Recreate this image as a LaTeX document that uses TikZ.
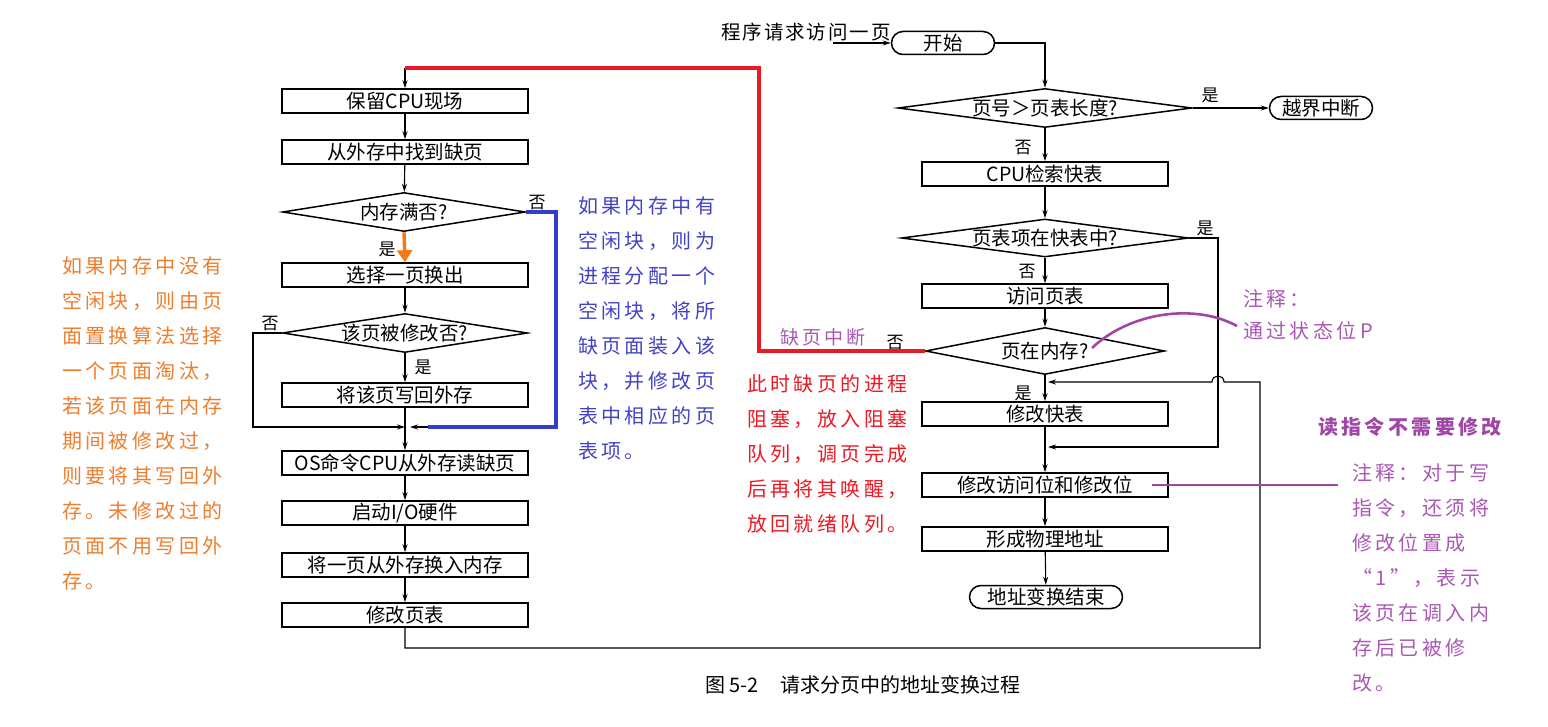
\documentclass[tikz,border=0pt]{standalone}
\usepackage{fontspec}
\setmainfont{Noto Sans CJK SC}
\newfontfamily\annot[LetterSpace=17]{Noto Sans CJK SC}
\newfontfamily\lblf[LetterSpace=10]{Noto Sans CJK SC}
\usetikzlibrary{shapes.geometric,arrows.meta}
\definecolor{orT}{RGB}{238,125,45}
\definecolor{orA}{RGB}{245,120,20}
\definecolor{blT}{RGB}{66,66,196}
\definecolor{blL}{RGB}{50,60,205}
\definecolor{rdT}{RGB}{235,25,35}
\definecolor{puL}{RGB}{160,70,165}
\definecolor{puT}{RGB}{168,88,178}
\tikzset{
  boxf/.style={font=\fontsize{19.5}{22}\selectfont},
  box/.style={boxf, draw, line width=1.5pt, minimum width=246, minimum height=24, inner sep=0pt},
  term/.style={boxf, draw, line width=1.5pt, rounded corners=11.5, minimum height=23, inner sep=0pt},
  dia/.style={boxf, diamond, draw, line width=1.5pt, inner sep=0pt},
  arr/.style={-{Stealth[length=8pt,width=5pt]}, line width=1.1pt},
  ln/.style={line width=1.1pt},
  yn/.style={font=\fontsize{17}{17}\selectfont, inner sep=0pt},
  orarr/.style={-{Triangle[length=12pt,width=15pt]}, line width=3.4pt, draw=orA},
  blline/.style={line width=3.5pt, draw=blL},
  rdline/.style={line width=3.2pt, draw=rdT},
  pline/.style={line width=2.6pt, draw=puL},
  note/.style={anchor=north west, align=left, inner sep=0pt, font=\annot\fontsize{20}{35}\selectfont},
}
\begin{document}
\begin{tikzpicture}[x=1pt,y=-1pt]
\useasboundingbox (0,0) rectangle (1548,727);

% ---------- left column ----------
\node[box] (n1) at (405,101) {保留CPU现场};
\node[box] (n2) at (405,152) {从外存中找到缺页};
\node[dia, minimum width=243, minimum height=39, aspect=6.2] (d1) at (404,212) {内存满否?};
\node[box] (n3) at (405,275) {选择一页换出};
\node[dia, minimum width=245, minimum height=39, aspect=6.3] (d2) at (405,333) {该页被修改否?};
\node[box] (n4) at (405,395) {将该页写回外存};
\coordinate (J1) at (405,427);
\node[box] (n5) at (405,463) {OS命令CPU从外存读缺页};
\node[box] (n6) at (405,513) {启动I/O硬件};
\node[box] (n7) at (405,565) {将一页从外存换入内存};
\node[box] (n8) at (405,615) {修改页表};

% ---------- right column ----------
\node[yn, font=\lblf\fontsize{19.5}{22}\selectfont] (req) at (806,32) {程序请求访问一页};
\coordinate (inS) at (833,43);
\node[term, minimum width=103] (s) at (943,43) {开始};
\node[dia, minimum width=294, minimum height=39, aspect=7.5] (d3) at (1045,108) {页号＞页表长度?};
\node[term, minimum width=103] (e1) at (1321,108) {越界中断};
\node[box] (m1) at (1045,174) {CPU检索快表};
\node[dia, minimum width=287, minimum height=38, aspect=7.55] (d4) at (1045,238) {页表项在快表中?};
\node[box] (m2) at (1045,296) {访问页表};
\node[dia, minimum width=239, minimum height=47, aspect=5.1] (d5) at (1045,351) {页在内存?};
\coordinate (J3) at (1045,382);
\node[box] (m3) at (1045,414) {修改快表};
\coordinate (J4) at (1045,447);
\node[box] (m4) at (1045,485) {修改访问位和修改位};
\node[box] (m5) at (1045,539) {形成物理地址};
\node[term, minimum width=153] (e2) at (1046,597) {地址变换结束};

% ---------- yes/no labels ----------
\node[yn] (y1) at (387,249) {是};
\node[yn] (no1) at (537,203) {否};
\node[yn] (no2) at (270,324) {否};
\node[yn] (y2) at (423,367) {是};
\node[yn] (y3) at (1210,95) {是};
\node[yn] (no3) at (1023,148) {否};
\node[yn] (y4) at (1205,228) {是};
\node[yn] (no4) at (1027,272) {否};
\node[yn] (no5) at (895,343) {否};
\node[yn] (y5) at (1023,393) {是};

% ---------- connectors left ----------
\coordinate (r1) at (759,351);
\coordinate (r2) at (759,68);
\coordinate (r3) at (405,68);
\draw[arr] (r3) -- (n1);
\draw[arr] (n1) -- (n2);
\draw[arr] (n2) -- (d1);
\draw[orarr] (d1.south) -- (n3.north);
\coordinate (bR) at (556,427);
\coordinate (bE) at (428,427);
\coordinate (J1r) at (410,427);
\draw[blline] (d1.east) -| (bR) -- (bE);
\draw[arr] (bE) -- (J1r);
\draw[arr] (n3) -- (d2);
\draw[arr] (d2) -- (n4);
\coordinate (lL) at (253,427);
\draw[arr] (d2.west) -| (lL) -- (J1);
\draw[arr] (n4) -- (n5);
\draw[arr] (n5) -- (n6);
\draw[arr] (n6) -- (n7);
\draw[arr] (n7) -- (n8);

% bottom return loop
\coordinate (br1) at (1260,648);
\coordinate (hopR) at (1224,382);
\coordinate (hopL) at (1212,382);
\coordinate (J3r) at (1048,382);
\draw[arr] (n8.south) |- (br1) |- (hopR) .. controls +(0,-8) and +(0,-8) .. (hopL) -- (J3r);

% ---------- connectors right ----------
\draw[arr] (inS) -- (s);
\draw[arr] (s.east) -| (d3.north);
\draw[arr] (d3.east) -- (e1.west);
\draw[arr] (d3) -- (m1);
\draw[arr] (m1) -- (d4);
\draw[arr] (d4) -- (m2);
\coordinate (c4) at (1218,447);
\coordinate (J4r) at (1048,447);
\draw[arr] (d4.east) -| (c4) -- (J4r);
\draw[arr] (m2) -- (d5);
\draw[arr] (d5) -- (m3);
\draw[arr] (m3) -- (m4);
\draw[arr] (m4) -- (m5);
\draw[arr] (m5) -- (e2);

% red path
\draw[rdline] (d5.west) -- (r1) -- (r2) -- (r3);

% ---------- annotations ----------
\node[note, text=orT] (tor) at (62,256) {如果内存中没有\\空闲块，则由页\\面置换算法选择\\一个页面淘汰，\\若该页面在内存\\期间被修改过，\\则要将其写回外\\存。未修改过的\\页面不用写回外\\存。};
\node[note, text=blT] (tbl) at (578,196) {如果内存中有\\空闲块，则为\\进程分配一个\\空闲块，将所\\缺页面装入该\\块，并修改页\\表中相应的页\\表项。};
\node[note, text=rdT] (trd) at (747,374) {此时缺页的进程\\阻塞，放入阻塞\\队列，调页完成\\后再将其唤醒，\\放回就绪队列。};
\node[yn, text=puT, font=\annot\fontsize{19}{20}\selectfont] (qyzd) at (823,337) {缺页中断};
\node[note, text=puT, font=\annot\fontsize{20}{32}\selectfont] (zs1) at (1243,289) {注释：\\通过状态位P};
\node[yn, text=puL, font=\annot\bfseries\fontsize{20}{22}\selectfont] (rd) at (1410,427) {读指令不需要修改};
\node[note, text=puT] (zs2) at (1352,463) {注释：对于写\\指令，还须将\\修改位置成\\“1”，表示\\该页在调入内\\存后已被修\\改。};

\coordinate (pc1) at (1092,348);
\coordinate (pc2) at (1237,326);
\draw[pline] (pc1) .. controls (1130,312) and (1195,303) .. (pc2);
\coordinate (pl1) at (1152,485);
\coordinate (pl2) at (1338,485);
\draw[pline] (pl1) -- (pl2);

% caption
\node[anchor=west, inner sep=0pt, font=\fontsize{20}{22}\selectfont] (cap) at (705,685) {图 5-2\hspace{22pt}请求分页中的地址变换过程};
\end{tikzpicture}
\end{document}
